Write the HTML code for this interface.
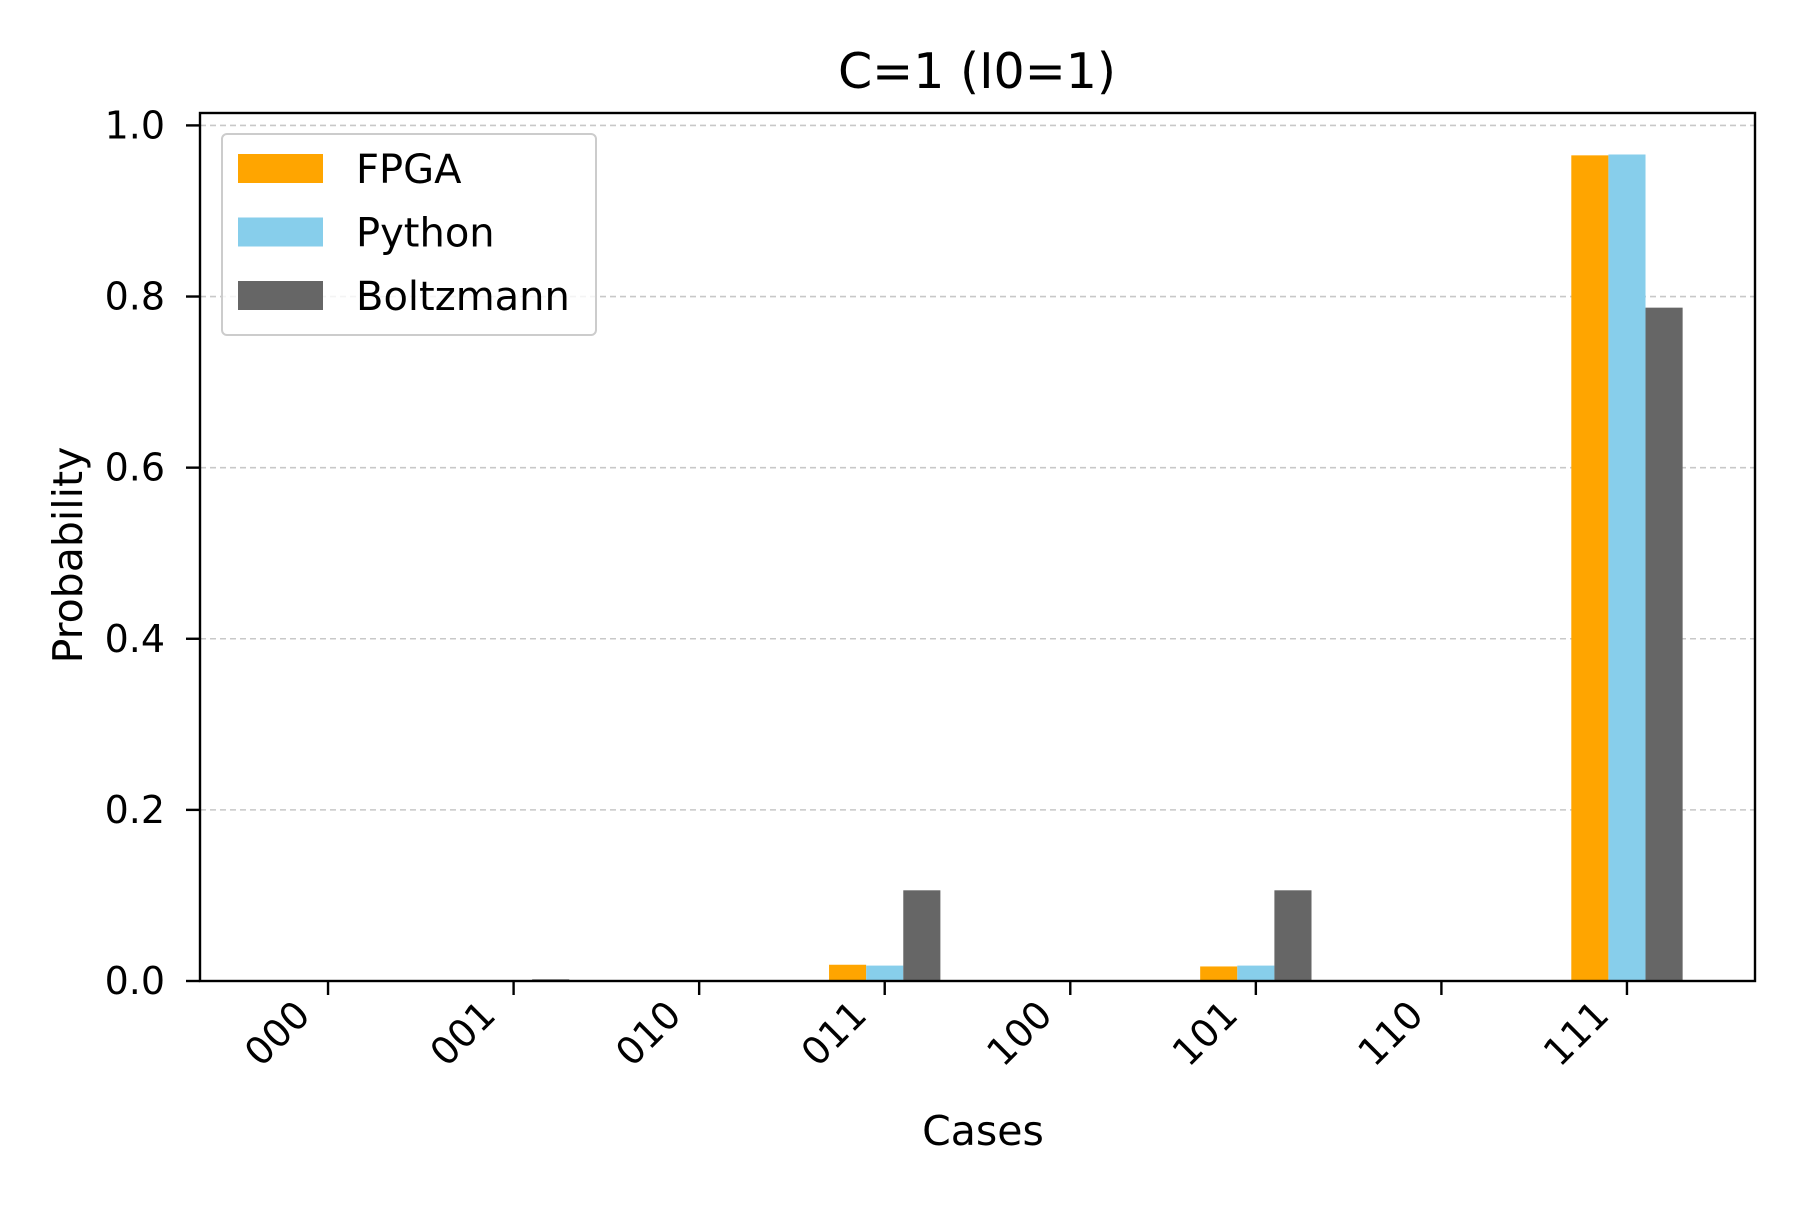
<!DOCTYPE html>
<html><head><meta charset="utf-8"><style>
body{margin:0;background:#fff}
svg{font-family:"DejaVu Sans","Liberation Sans",sans-serif}
</style></head><body>
<svg id="c" width="1800" height="1200" xmlns="http://www.w3.org/2000/svg">
<rect width="1800" height="1200" fill="#fff"/>
<text x="977" y="88" font-size="49" text-anchor="middle">C=1 (I0=1)</text>
<text transform="translate(82,555) rotate(-90)" font-size="41" text-anchor="middle">Probability</text>
<text x="983" y="1145" font-size="41" text-anchor="middle">Cases</text>
<g id="grid"></g><g id="bars"></g><g id="axes"></g><g id="legend"></g>
</svg>
<script>
const categories=["000","001","010","011","100","101","110","111"];
const fpga=[0,0,0,0.019,0,0.017,0,0.965];
const python=[0,0,0,0.018,0,0.018,0,0.966];
const boltz=[0,0.002,0,0.106,0,0.106,0,0.787];
const yTicks=[0,0.2,0.4,0.6,0.8,1.0];
const seriesNames=["FPGA","Python","Boltzmann"];
const colors=["#FFA500","#87CEEB","#666666"];
const L=200,R=1755,T=113,B=981,xmin=-0.69,xmax=7.69,ymax=1.0145;
const NS="http://www.w3.org/2000/svg";
const X=v=>L+(v-xmin)/(xmax-xmin)*(R-L);
const Y=v=>B-v/ymax*(B-T);
function mk(tag,attrs,parent,text){const e=document.createElementNS(NS,tag);for(const k in attrs)e.setAttribute(k,attrs[k]);if(text!==undefined)e.textContent=text;document.getElementById(parent).appendChild(e);return e;}
yTicks.forEach(t=>{
  if(t>0){const g=mk('line',{x1:L,x2:R,y1:Y(t),y2:Y(t),stroke:'#c8c8c8','stroke-width':1.6,'stroke-dasharray':'6,4'},'grid');
  
  }
  const tk=mk('line',{x1:L-14,x2:L,y1:Y(t),y2:Y(t),stroke:'#000','stroke-width':2.4},'axes');
  
  
  const tl=mk('text',{x:L-35,y:Y(t)+13,'font-size':38,'text-anchor':'end'},'axes',t.toFixed(1));
  
  
});
const series=[fpga,python,boltz];
series.forEach((s,si)=>{s.forEach((v,i)=>{
  const x0=X(i+(si-1)*0.2-0.1),x1=X(i+(si-1)*0.2+0.1);
  const r=mk('rect',{x:x0,y:Y(v),width:x1-x0,height:B-Y(v),fill:colors[si]},'bars');
  
  
});});
const fr=mk('rect',{x:L,y:T,width:R-L,height:B-T,fill:'none',stroke:'#000','stroke-width':2.4},'axes');


categories.forEach((c,i)=>{
  const tk=mk('line',{x1:X(i),x2:X(i),y1:B,y2:B+14,stroke:'#000','stroke-width':2.4},'axes');
  
  
  const tl=mk('text',{transform:`translate(${X(i)-16},${B+36}) rotate(-45)`,'font-size':38,'text-anchor':'end'},'axes',c);
  
  
});
const lb=mk('rect',{x:222,y:134,width:374,height:201,rx:5,fill:'#fff','fill-opacity':0.8,stroke:'#ccc','stroke-width':2},'legend');


seriesNames.forEach((n,i)=>{
  const yy=169+i*63.5;
  const p=mk('rect',{x:238,y:yy-15,width:85,height:29,fill:colors[i]},'legend');
  
  
  const t=mk('text',{x:356,y:yy+14,'font-size':40},'legend',n);
  
  
});
</script>
</body></html>
